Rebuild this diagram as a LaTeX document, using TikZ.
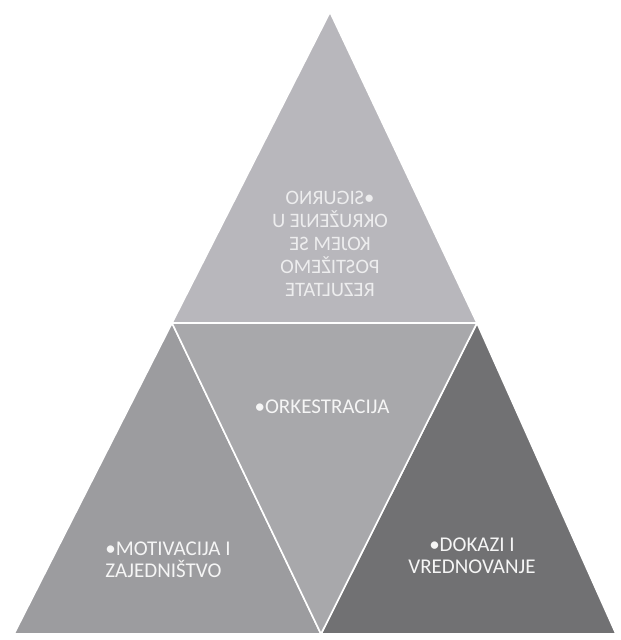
\documentclass[tikz,border=0pt]{standalone}
\usepackage{fontspec}
\setmainfont{Carlito}
\definecolor{topgrey}{HTML}{B8B7BC}
\definecolor{midgrey}{HTML}{A8A8AB}
\definecolor{leftgrey}{HTML}{9C9C9F}
\definecolor{rightgrey}{HTML}{717173}
\begin{document}
\begin{tikzpicture}[x=1pt, y=-1pt,
   every node/.style={font=\fontsize{21}{22}\selectfont, text=white!92!gray},
   part/.style={draw=white, line width=1.6pt, line join=round}]
\useasboundingbox (0,0) rectangle (621,640);
\coordinate (apex) at (330,12);
\coordinate (l)    at (172,323);
\coordinate (r)    at (477,323);
\coordinate (bl)   at (14,634);
\coordinate (bm)   at (321,634);
\coordinate (br)   at (616,634);
% the four faces
\filldraw[part, fill=topgrey]   (apex) -- (l) -- (r) -- cycle;
\filldraw[part, fill=leftgrey]  (l) -- (bl) -- (bm) -- cycle;
\filldraw[part, fill=rightgrey] (r) -- (bm) -- (br) -- cycle;
\filldraw[part, fill=midgrey]   (l) -- (r) -- (bm) -- cycle;
% labels
\node[align=center, xscale=-1, transform shape, text=white!75!topgrey,
      font=\fontsize{20.5}{23}\selectfont] (sigurno) at (330,244)
   {•SIGURNO\\OKRUŽENJE U\\KOJEM SE\\POSTIŽEMO\\REZULTATE};
\node (orkestracija) at (322,407) {•ORKESTRACIJA};
\node[align=left] (motivacija) at (168,560) {•MOTIVACIJA I\\ZAJEDNIŠTVO};
\node[align=center] (dokazi) at (472,556) {•DOKAZI I\\VREDNOVANJE};
\end{tikzpicture}
\end{document}
